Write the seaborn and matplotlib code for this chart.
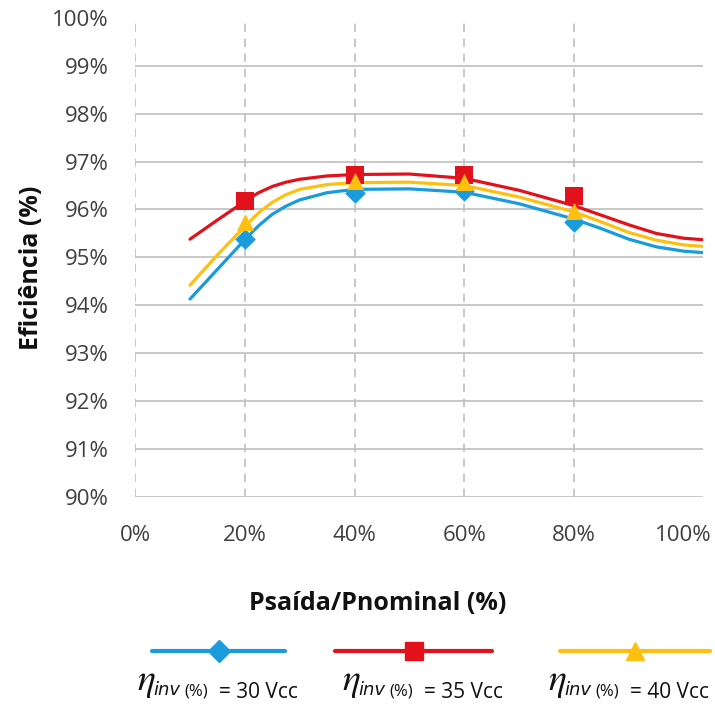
import numpy as np
import pandas as pd
import seaborn as sns
import matplotlib.pyplot as plt
from matplotlib.lines import Line2D

# curve values (smoothed lines)
curve_x = [10, 15, 20, 22.5, 25, 27.5, 30, 35, 40, 50, 60, 70, 80, 85, 90, 95, 100, 103.5]
eff_30 = [94.13, 94.75, 95.37, 95.66, 95.90, 96.07, 96.20, 96.35, 96.42, 96.43, 96.36,
          96.12, 95.80, 95.60, 95.38, 95.22, 95.13, 95.10]
eff_35 = [95.38, 95.78, 96.17, 96.35, 96.48, 96.57, 96.63, 96.70, 96.73, 96.74, 96.65,
          96.40, 96.08, 95.88, 95.68, 95.50, 95.40, 95.37]
eff_40 = [94.42, 95.05, 95.65, 95.93, 96.15, 96.31, 96.42, 96.52, 96.56, 96.57, 96.50,
          96.26, 95.95, 95.74, 95.52, 95.36, 95.26, 95.23]

# marker points
mark_x = [20, 40, 60, 80]
mark_30 = [95.38, 96.35, 96.38, 95.73]
mark_35 = [96.18, 96.73, 96.72, 96.29]
mark_40 = [95.74, 96.60, 96.58, 95.97]

series = ["30 Vcc", "35 Vcc", "40 Vcc"]
colors = {"30 Vcc": "#1A9BDB", "35 Vcc": "#E1121B", "40 Vcc": "#FDC010"}
markers = {"30 Vcc": "D", "35 Vcc": "s", "40 Vcc": "^"}
msizes = {"30 Vcc": 110, "35 Vcc": 150, "40 Vcc": 150}

curves = pd.DataFrame({
    "x": curve_x * 3,
    "eff": eff_30 + eff_35 + eff_40,
    "serie": np.repeat(series, len(curve_x)),
})
points = pd.DataFrame({
    "x": mark_x * 3,
    "eff": mark_30 + mark_35 + mark_40,
    "serie": np.repeat(series, len(mark_x)),
})

sns.set_style("white")
plt.rcParams['font.family'] = ['Open Sans', 'DejaVu Sans']

fig = plt.figure(figsize=(7.15, 7.13), dpi=100)
ax = fig.add_axes([0.189, 0.303, 0.794, 0.672])

# grid
for yv in range(90, 100):
    ax.axhline(yv, color="#BFBFBF", lw=1.2, zorder=0)
for xv in [0, 20, 40, 60, 80]:
    ax.axvline(xv, color="#BFBFBF", lw=1.2, ls=(0, (5, 4)), zorder=0)

sns.lineplot(data=curves, x="x", y="eff", hue="serie", palette=colors,
             lw=2.3, legend=False, ax=ax, zorder=2)
for s in series:
    sub = points[points.serie == s]
    ax.scatter(sub.x, sub.eff, marker=markers[s], s=msizes[s], color=colors[s],
               zorder=3, linewidths=0)

ax.set_xlim(0, 103.5)
ax.set_ylim(90, 100)
ax.set_xticks([0, 20, 40, 60, 80, 100])
ax.set_xticklabels(["0%", "20%", "40%", "60%", "80%", "100%"])
ax.set_yticks(range(90, 101))
ax.set_yticklabels([f"{v}%" for v in range(90, 101)])
ax.tick_params(axis="both", length=0, labelsize=16, labelcolor="#404040")
ax.tick_params(axis="x", pad=20)
ax.tick_params(axis="y", pad=19)
for sp in ax.spines.values():
    sp.set_visible(False)
ax.set_xlabel("")
ax.set_ylabel("")

fig.text(378 / 715, 1 - 603 / 713, "Psaída/Pnominal (%)", fontsize=18,
         fontweight="bold", color="#111111", ha="center", va="center")
fig.text(32 / 715, 1 - 268 / 713, "Eficiência (%)", fontsize=18,
         fontweight="bold", color="#111111", ha="center", va="center", rotation=90)

# legend drawn below the plot
leg_pos = [(152, 285), (335, 492), (560, 710)]
label_left = [137, 342, 548]
for s, (x0, x1), b in zip(series, leg_pos, label_left):
    yl = 1 - 651 / 713
    fig.add_artist(Line2D([x0 / 715, x1 / 715], [yl, yl], color=colors[s], lw=3,
                          transform=fig.transFigure))
    fig.add_artist(Line2D([(x0 + x1) / 2 / 715], [yl], marker=markers[s], color=colors[s],
                          markersize=13 if s != "30 Vcc" else 11, lw=0,
                          transform=fig.transFigure))
    fig.text(b / 715, 1 - 690 / 713, r"$\eta$", math_fontfamily="stix",
             ha="left", va="baseline", fontsize=27, color="#111111")
    fig.text((b + 16) / 715, 1 - 695 / 713, "inv", family="DejaVu Sans",
             style="italic", ha="left", va="baseline", fontsize=13, color="#111111")
    fig.text((b + 47) / 715, 1 - 695 / 713, "(%)",
             ha="left", va="baseline", fontsize=12, color="#111111")
    fig.text((b + 82) / 715, 1 - 698 / 713, "= " + s,
             ha="left", va="baseline", fontsize=15, color="#111111")

fig.savefig("out.png", dpi=100)
